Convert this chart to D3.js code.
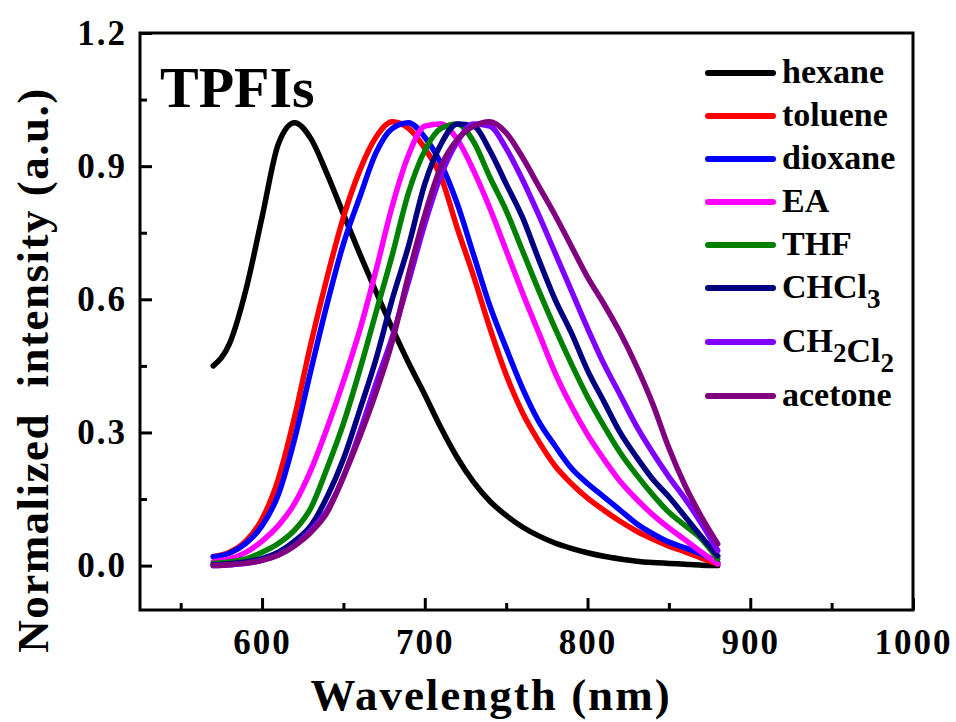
<!DOCTYPE html>
<html>
<head>
<meta charset="utf-8">
<script src="https://cdn.jsdelivr.net/npm/d3@7"></script>
<style>
  body { margin: 0; background: #fff; }
  svg text { font-family: "Liberation Serif", "Times New Roman", serif; font-weight: bold; }
</style>
</head>
<body>
<div id="chart"></div>
<script>
// wavelength grid (nm) shared by all spectra
var wavelengths = [570, 580, 590, 600, 610, 620, 630, 640, 650, 660, 670, 680, 690, 700, 710, 720,
                   730, 740, 750, 760, 770, 780, 790, 800, 810, 820, 830, 840, 850, 860, 870, 880];

// normalized PL intensity for each solvent
var hexane  = [0.45, 0.5, 0.62, 0.785, 0.95, 0.998, 0.962, 0.882, 0.792, 0.703, 0.617, 0.535, 0.457, 0.385, 0.31, 0.243,
               0.188, 0.145, 0.113, 0.087, 0.067, 0.051, 0.039, 0.029, 0.021, 0.015, 0.01, 0.007, 0.005, 0.003, 0.001, 0.0];
var toluene = [0.02, 0.03, 0.055, 0.105, 0.195, 0.335, 0.5, 0.65, 0.785, 0.89, 0.965, 1.0, 0.985, 0.94, 0.875, 0.76,
               0.652, 0.535, 0.43, 0.345, 0.28, 0.225, 0.185, 0.152, 0.125, 0.10, 0.078, 0.06, 0.044, 0.031, 0.017, 0.004];
var dioxane = [0.02, 0.028, 0.05, 0.09, 0.16, 0.285, 0.44, 0.59, 0.725, 0.83, 0.93, 0.985, 0.998, 0.965, 0.905, 0.815,
               0.70, 0.585, 0.49, 0.40, 0.325, 0.27, 0.22, 0.185, 0.155, 0.125, 0.095, 0.072, 0.053, 0.04, 0.026, 0.007];
var ea      = [0.009, 0.015, 0.03, 0.055, 0.09, 0.14, 0.215, 0.31, 0.415, 0.53, 0.665, 0.81, 0.925, 0.99, 0.995, 0.96,
               0.89, 0.805, 0.71, 0.615, 0.525, 0.435, 0.36, 0.295, 0.24, 0.19, 0.15, 0.115, 0.085, 0.058, 0.03, 0.004];
var thf     = [0.005, 0.008, 0.015, 0.03, 0.05, 0.08, 0.13, 0.22, 0.32, 0.44, 0.57, 0.70, 0.84, 0.935, 0.985, 0.995,
               0.955, 0.875, 0.80, 0.71, 0.62, 0.535, 0.455, 0.38, 0.315, 0.255, 0.205, 0.16, 0.12, 0.09, 0.06, 0.015];
var chcl3   = [0.002, 0.004, 0.008, 0.016, 0.03, 0.055, 0.09, 0.155, 0.24, 0.35, 0.465, 0.60, 0.72, 0.86, 0.95, 0.995,
               0.99, 0.935, 0.86, 0.785, 0.69, 0.60, 0.525, 0.44, 0.37, 0.30, 0.245, 0.195, 0.155, 0.11, 0.065, 0.022];
var ch2cl2  = [0.0, 0.002, 0.005, 0.012, 0.024, 0.045, 0.08, 0.125, 0.20, 0.30, 0.41, 0.515, 0.64, 0.77, 0.88, 0.955,
               0.995, 0.99, 0.94, 0.87, 0.79, 0.705, 0.62, 0.535, 0.455, 0.385, 0.315, 0.255, 0.20, 0.15, 0.095, 0.034];
var acetone = [0.0, 0.002, 0.005, 0.012, 0.024, 0.045, 0.075, 0.12, 0.20, 0.29, 0.39, 0.505, 0.655, 0.79, 0.90, 0.96,
               0.99, 1.0, 0.975, 0.92, 0.855, 0.79, 0.72, 0.65, 0.59, 0.525, 0.45, 0.365, 0.265, 0.18, 0.11, 0.049];

var seriesNames  = ["hexane", "toluene", "dioxane", "EA", "THF", "CHCl_3", "CH_2Cl_2", "acetone"];
var seriesValues = [hexane, toluene, dioxane, ea, thf, chcl3, ch2cl2, acetone];
var seriesColors = ["#000000", "#ff0000", "#0000ff", "#ff00ff", "#008000", "#000080", "#8000ff", "#800080"];

var xTicks = [600, 700, 800, 900, 1000];
var xMinorTicks = [550, 650, 750, 850, 950];
var yTicks = [0.0, 0.3, 0.6, 0.9, 1.2];
var yMinorTicks = [0.15, 0.45, 0.75, 1.05];

var width = 956, height = 722;
var margin = {top: 33, right: 43, bottom: 112, left: 140};
var w = width - margin.left - margin.right;
var h = height - margin.top - margin.bottom;

var xScale = d3.scaleLinear().domain([525, 1000]).range([0, w]);
var yScale = d3.scaleLinear().domain([-0.1, 1.2]).range([h, 0]);

var svg = d3.select("#chart").append("svg")
    .attr("width", width)
    .attr("height", height)
    .style("background", "#fff");

var g = svg.append("g")
    .attr("transform", "translate(" + margin.left + "," + margin.top + ")");

// minor ticks first (no labels)
g.append("g")
    .attr("transform", "translate(0," + h + ")")
    .call(d3.axisBottom(xScale).tickValues(xMinorTicks).tickSize(-7).tickFormat(""))
    .call(function(a) { a.select(".domain").remove(); });
g.append("g")
    .call(d3.axisLeft(yScale).tickValues(yMinorTicks).tickSize(-7).tickFormat(""))
    .call(function(a) { a.select(".domain").remove(); });

// major ticks with labels
var xAxis = g.append("g")
    .attr("class", "x-axis")
    .attr("transform", "translate(0," + h + ")")
    .call(d3.axisBottom(xScale).tickValues(xTicks).tickSize(-12).tickPadding(19).tickFormat(d3.format("d")));
var yAxis = g.append("g")
    .attr("class", "y-axis")
    .call(d3.axisLeft(yScale).tickValues(yTicks).tickSize(-12).tickPadding(13).tickFormat(d3.format(".1f")));

g.selectAll(".x-axis .domain, .y-axis .domain").remove();
g.selectAll(".tick line").attr("stroke", "#000").attr("stroke-width", 3);
g.selectAll(".tick text")
    .attr("fill", "#000")
    .style("font-size", "35px")
    .style("letter-spacing", "2px")
    .style("font-family", "'Liberation Serif', 'Times New Roman', serif")
    .style("font-weight", "bold");

// frame
g.append("rect")
    .attr("x", 0).attr("y", 0)
    .attr("width", w).attr("height", h)
    .attr("fill", "none")
    .attr("stroke", "#000")
    .attr("stroke-width", 3);

// spectra
var line = d3.line()
    .x(function(d, i) { return xScale(wavelengths[i]); })
    .y(function(d) { return yScale(d); })
    .curve(d3.curveMonotoneX);

g.selectAll(".spectrum")
    .data(seriesValues)
    .enter().append("path")
    .attr("class", "spectrum")
    .attr("d", line)
    .attr("fill", "none")
    .attr("stroke", function(d, i) { return seriesColors[i]; })
    .attr("stroke-width", 5.5)
    .attr("stroke-linecap", "round");

// TPFIs label
g.append("text")
    .attr("x", 20)
    .attr("y", 74)
    .style("font-size", "58px")
    .text("TPFIs");

// legend
var legend = svg.append("g").attr("transform", "translate(708,73)");
var rowY = [];
var extra = 0;
seriesNames.forEach(function(name, i) {
    rowY.push(i * 43 + extra);
    if (name.indexOf("_") >= 0) extra += 11;
});

var rows = legend.selectAll(".legend-row")
    .data(seriesNames)
    .enter().append("g")
    .attr("class", "legend-row")
    .attr("transform", function(d, i) { return "translate(0," + rowY[i] + ")"; });

rows.append("line")
    .attr("x1", 0).attr("x2", 65)
    .attr("y1", 0).attr("y2", 0)
    .attr("stroke", function(d, i) { return seriesColors[i]; })
    .attr("stroke-width", 6)
    .attr("stroke-linecap", "round");

rows.append("text")
    .attr("x", 74)
    .attr("y", 10)
    .style("font-size", "34px")
    .each(function(d) {
        var t = d3.select(this);
        d.split(/(_\d)/).forEach(function(part) {
            if (!part) return;
            if (part[0] === "_") {
                t.append("tspan").attr("dy", 10).style("font-size", "27px").text(part.slice(1));
                t.append("tspan").attr("dy", -10).text("");
            } else {
                t.append("tspan").text(part);
            }
        });
    });

// axis titles
svg.append("text")
    .attr("x", 491)
    .attr("y", 710)
    .attr("text-anchor", "middle")
    .style("font-size", "45px")
    .style("letter-spacing", "2px")
    .text("Wavelength (nm)");

svg.append("text")
    .attr("transform", "translate(48,370) rotate(-90)")
    .attr("text-anchor", "middle")
    .style("font-size", "45px")
    .style("letter-spacing", "1.5px")
    .style("white-space", "pre")
    .attr("xml:space", "preserve")
    .text("Normalized  intensity (a.u.)");
</script>
</body>
</html>
